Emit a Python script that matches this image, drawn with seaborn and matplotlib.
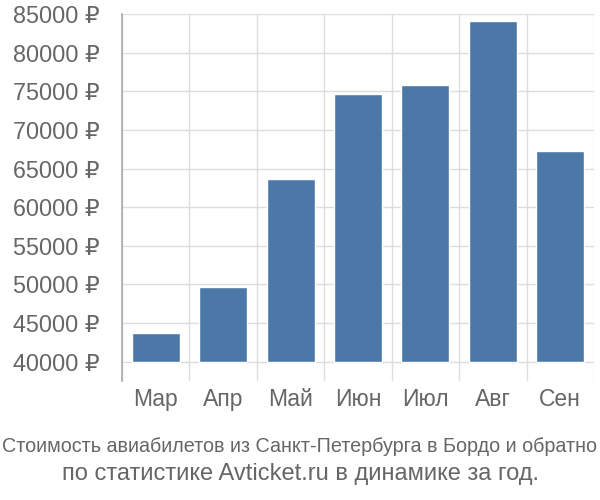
import matplotlib
matplotlib.use("Agg")
import matplotlib.pyplot as plt
import seaborn as sns
import pandas as pd
from matplotlib.ticker import FuncFormatter, FixedLocator

months = ["Мар", "Апр", "Май", "Июн", "Июл", "Авг", "Сен"]
prices = [43680, 49630, 63690, 74650, 75850, 84140, 67270]
base = 40000
caption = ["Стоимость авиабилетов из Санкт-Петербурга в Бордо и обратно",
           "по статистике Avticket.ru в динамике за год."]

sns.set_style("white")
plt.rcParams["font.family"] = ["Liberation Sans", "DejaVu Sans"]

df = pd.DataFrame({"month": months, "h": [p - base for p in prices]})

fig = plt.figure(figsize=(6, 5), dpi=100)
ax = fig.add_axes([122/600, 1 - 381/500, (594 - 122)/600, (381 - 14)/500])
sns.barplot(data=df, x="month", y="h", bottom=base, color="#4c78a8",
            saturation=1, width=0.71, ax=ax, zorder=3)
ax.set_xlim(-0.5, 6.5)
ax.set_ylim(37500, 85000)
ax.set_yticks([40000 + 5000*i for i in range(10)])
ax.yaxis.set_major_formatter(FuncFormatter(lambda v, p: f"{int(v)} ₽"))
ax.set_ylim(37500, 85000)
ax.xaxis.set_minor_locator(FixedLocator([i - 0.5 for i in range(8)]))
ax.grid(True, axis="y", color="#dddddd", lw=1, zorder=0)
ax.grid(True, axis="x", which="minor", color="#dddddd", lw=1, zorder=0)
ax.set_axisbelow(True)
for s in ["top", "right", "bottom"]:
    ax.spines[s].set_visible(False)
ax.spines["left"].set_color("#aaaaaa")
ax.spines["left"].set_linewidth(1.2)
ax.tick_params(axis="y", length=14, color="#dddddd", width=1, labelsize=16.8,
               labelcolor="#666666", pad=2)
ax.tick_params(axis="x", which="both", length=0, labelsize=16.5,
               labelcolor="#666666", pad=5)
ax.set_xlabel("")
ax.set_ylabel("")

fig.text(0.5, 1 - 447/500, caption[0], ha="center", va="center",
         fontsize=14.2, color="#666666",
         family=["Liberation Sans Narrow", "Liberation Sans", "DejaVu Sans"])
fig.text(0.5, 1 - 474/500, caption[1], ha="center", va="center",
         fontsize=17, color="#666666",
         family=["Liberation Sans", "DejaVu Sans"])

fig.savefig("out.png", dpi=100)
